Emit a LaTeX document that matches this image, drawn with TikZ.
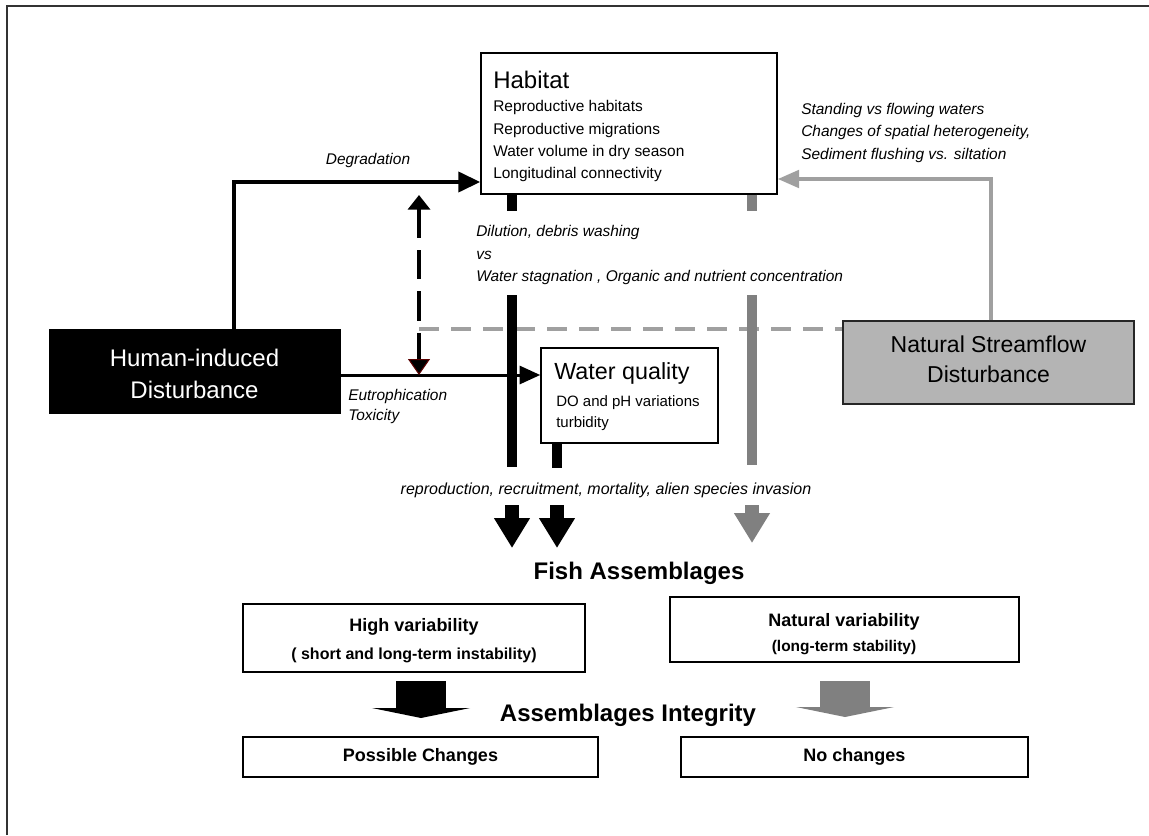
\documentclass[tikz,border=0pt]{standalone}
\usepackage{fontspec}
\setmainfont{Liberation Sans}
\usetikzlibrary{arrows.meta,fit,shadows}
\definecolor{lg}{HTML}{A0A0A0}
\definecolor{dg}{HTML}{808080}
\definecolor{natfill}{HTML}{B4B4B4}
\definecolor{darkred}{HTML}{5A0000}
\newcommand\setsz[2]{\fontsize{#1}{#2}\selectfont}
\begin{document}
\begin{tikzpicture}[x=0.75pt,y=-0.75pt,
  box/.style={draw=black, line width=1.1pt, inner sep=0pt, fill=white,
    drop shadow={shadow xshift=0.9pt, shadow yshift=-0.9pt, fill=black!35, opacity=1}},
  txt/.style={inner sep=0pt, anchor=west},
  big/.style={font=\setsz{18}{24}},
  sub/.style={font=\setsz{11.6}{14}},
  lbl/.style={inner sep=0pt, font=\setsz{11.6}{14}\itshape},
  bold/.style={inner sep=0pt, font=\setsz{13.5}{16}\bfseries},
  title/.style={inner sep=0pt, font=\setsz{18}{21}\bfseries},
  blkline/.style={line width=3pt, black},
  bar/.style={line width=7.5pt},
  blockarrow/.style={line width=10.5pt, -{Triangle[length=22.5pt,width=25.5pt]}},
  bigarrow/.style={line width=37.5pt, -{Triangle[length=7.5pt,width=73.5pt]}}
]
\useasboundingbox (0,0) rectangle (1149,835);
% frame
\draw[line width=1.1pt, black!80] (7,835) -- (7,6) -- (1149,6);

% Habitat
\node[box, fit={(481,53) (777,194)}] (hab) {};
\node[txt, big] (habT) at (493,80) {Habitat};
\node[txt, sub] (habA) at (493,108) {Reproductive habitats};
\node[txt, sub] (habB) at (493,130) {Reproductive migrations};
\node[txt, sub] (habC) at (493,152) {Water volume in dry season};
\node[txt, sub] (habD) at (493,174) {Longitudinal connectivity};

% Human-induced disturbance
\node[draw=black, fill=black, inner sep=0pt, fit={(49,329) (340,413)}] (hum) {};
\node[inner sep=0pt, align=center, text=white, font=\setsz{18}{24}] (humT) at (194.5,374) {Human-induced\\Disturbance};

% Natural streamflow disturbance
\node[box, draw=black!85, fill=natfill, fit={(843,321) (1134,404)}] (nat) {};
\node[inner sep=0pt, align=center, font=\setsz{17.25}{22.5}] (natT) at (988.5,359) {Natural Streamflow\\Disturbance};

% Water quality
\node[box, fit={(541,348) (718,443)}] (wq) {};
\node[txt, font=\setsz{17.5}{20}] (wqT) at (554,373) {Water quality};
\node[txt, font=\setsz{11.25}{14}] (wqA) at (556,403) {DO and pH variations};
\node[txt, font=\setsz{11.25}{14}] (wqB) at (556,424) {turbidity};

% labels
\node[lbl] (deg) at (368,160) {Degradation};
\node[lbl, anchor=west] (stA) at (801,110) {Standing vs flowing waters};
\node[lbl, anchor=west] (stB) at (801,132) {Changes of spatial heterogeneity,};
\node[lbl, anchor=west] (stC) at (801,155) {Sediment flushing vs. siltation};
\node[lbl, anchor=west] (diA) at (476,232) {Dilution, debris washing};
\node[lbl, anchor=west] (diB) at (476,255) {vs};
\node[lbl, anchor=west] (diC) at (476,277) {Water stagnation , Organic and nutrient concentration};
\node[lbl, anchor=west] (euA) at (348,396) {Eutrophication};
\node[lbl, anchor=west] (euB) at (348,416) {Toxicity};
\node[lbl, font=\setsz{12}{14}\itshape] (rep) at (606,490) {reproduction, recruitment, mortality, alien species invasion};

% titles
\node[title] (fish) at (639,573) {Fish Assemblages};
\node[title] (integ) at (628,715) {Assemblages Integrity};

% lower boxes
\node[box, fit={(243,604) (585,672)}] (hv) {};
\node[bold] (hvA) at (414,627) {High variability};
\node[inner sep=0pt, font=\setsz{12}{14}\bfseries] (hvB) at (414,655) {( short and long-term instability)};
\node[box, fit={(670,597) (1019,662)}] (nv) {};
\node[bold] (nvA) at (844,622) {Natural variability};
\node[inner sep=0pt, font=\setsz{11.6}{14}\bfseries] (nvB) at (844,648) {(long-term stability)};
\node[box, fit={(243,737) (598,777)}] (pc) {};
\node[bold] (pcT) at (pc.center) {Possible Changes};
\node[box, fit={(681,737) (1028,777)}] (nc) {};
\node[bold] (ncT) at (nc.center) {No changes};

% coordinates
\coordinate (degturn) at (234,182);
\coordinate (gturn) at (991,179);
\coordinate (eut) at (0,375);
\coordinate (gd) at (419,329);
\coordinate (dtop) at (419,195);
\coordinate (dbot) at (419,375);
\coordinate (b1) at (512,211); \coordinate (b2) at (512,295); \coordinate (b3) at (512,467);
\coordinate (b4) at (512,505); \coordinate (b5) at (512,548);
\coordinate (g1) at (752,211); \coordinate (g2) at (752,295); \coordinate (g3) at (752,465);
\coordinate (g4) at (752,505); \coordinate (g5) at (752,543);
\coordinate (w1) at (557,468); \coordinate (w4) at (557,505); \coordinate (w5) at (557,548);
\coordinate (ha1) at (421,681); \coordinate (ha2) at (421,718);
\coordinate (na1) at (845,681); \coordinate (na2) at (845,717);

% gray dashed line
\draw[lg, line width=3pt, dash pattern=on 15pt off 9pt] (gd) -- (nat.west |- gd);

% degradation arrow
\draw[blkline, -{Triangle[length=16.5pt,width=15pt]}] (hum.north -| degturn) |- (hab.west |- degturn);
% natural to habitat arrow
\draw[lg, line width=3pt, -{Triangle[length=16pt,width=13pt]}] (nat.north -| gturn) |- (hab.east |- gturn);
% eutrophication arrow
\draw[line width=2.25pt, black, -{Triangle[length=15.5pt,width=13.5pt]}] (hum.east |- eut) -- (wq.west |- eut);
% dashed double arrow
\draw[line width=3pt, black, dash pattern=on 22pt off 9pt,
  {Triangle[length=11pt,width=16.5pt]}-{Triangle[length=12pt,width=16.5pt,color=darkred,fill=black,line width=0.8pt]}] (dtop) -- (dbot);

% bars
\draw[bar, black] (hab.south -| b1) -- (b1);
\draw[bar, black] (b2) -- (b3);
\draw[bar, dg] (hab.south -| g1) -- (g1);
\draw[bar, dg] (g2) -- (g3);
\draw[bar, black] (wq.south -| w1) -- (w1);

% block arrows
\draw[blockarrow, black] (b4) -- (b5);
\draw[blockarrow, black] (w4) -- (w5);
\draw[blockarrow, dg] (g4) -- (g5);
\draw[bigarrow, black] (ha1) -- (ha2);
\draw[bigarrow, dg] (na1) -- (na2);
\end{tikzpicture}
\end{document}
